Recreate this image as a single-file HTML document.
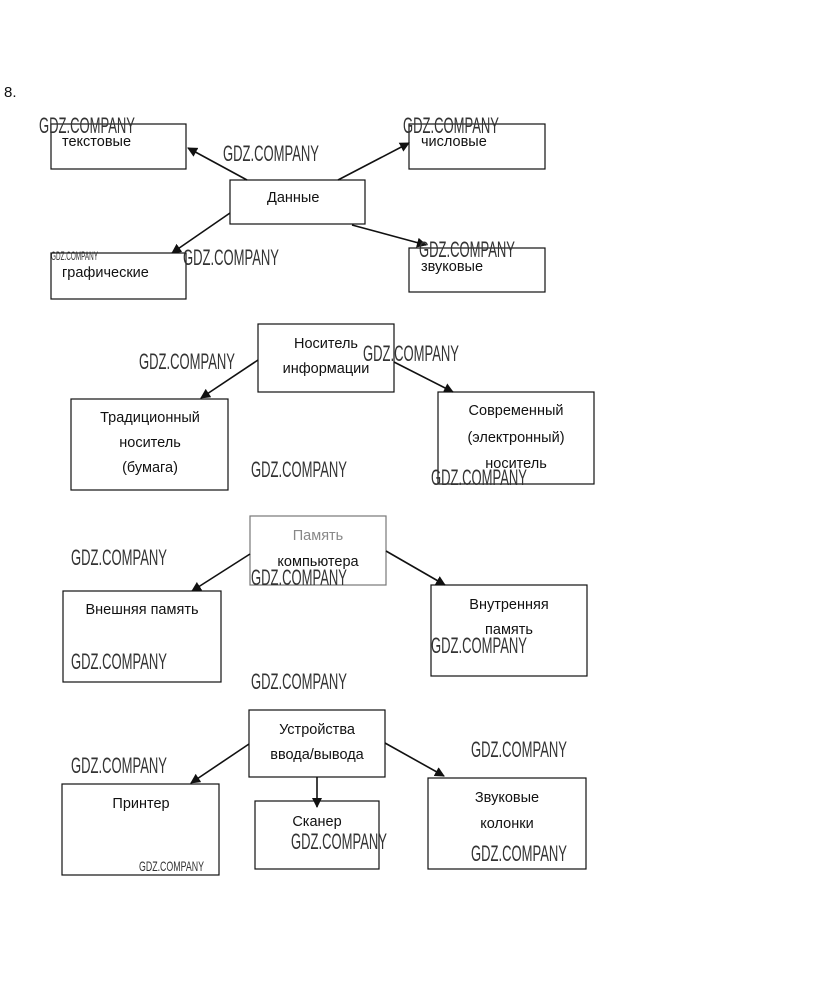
<!DOCTYPE html>
<html><head><meta charset="utf-8"><style>
html,body{margin:0;padding:0;background:#fff;}
svg{display:block;}
.t{font-family:"Liberation Sans","DejaVu Sans",sans-serif;font-size:14.5px;fill:#111;}
.w{font-family:"Liberation Sans",sans-serif;font-size:22px;fill:#333;}
.ws{font-family:"Liberation Sans",sans-serif;font-size:12px;fill:#333;}
rect{fill:none;stroke:#111;stroke-width:1.2;}
line{stroke:#111;stroke-width:1.6;}
</style></head><body>
<svg width="823" height="996" viewBox="0 0 823 996" xmlns="http://www.w3.org/2000/svg">
<defs><marker id="a" markerWidth="10" markerHeight="10" refX="9" refY="5" orient="auto" markerUnits="userSpaceOnUse"><path d="M0,0 L10,5 L0,10 z" fill="#111"/></marker></defs>
<text x="4" y="97" class="t" style="font-size:15px">8.</text>

<rect x="51" y="124" width="135" height="45"/>
<rect x="409" y="124" width="136" height="45"/>
<rect x="230" y="180" width="135" height="44"/>
<rect x="51" y="253" width="135" height="46"/>
<rect x="409" y="248" width="136" height="44"/>
<text x="62" y="146" class="t">текстовые</text>
<text x="421" y="146" class="t">числовые</text>
<text x="267" y="202" class="t">Данные</text>
<text x="62" y="277" class="t">графические</text>
<text x="421" y="271" class="t">звуковые</text>
<line x1="247" y1="180" x2="188" y2="148" marker-end="url(#a)"/>
<line x1="338" y1="180" x2="409" y2="143" marker-end="url(#a)"/>
<line x1="230" y1="213" x2="172" y2="253" marker-end="url(#a)"/>
<line x1="352" y1="225" x2="426" y2="245" marker-end="url(#a)"/>

<rect x="258" y="324" width="136" height="68"/>
<rect x="71" y="399" width="157" height="91"/>
<rect x="438" y="392" width="156" height="92"/>
<text x="326" y="348" class="t" text-anchor="middle">Носитель</text>
<text x="326" y="373" class="t" text-anchor="middle">информации</text>
<text x="150" y="422" class="t" text-anchor="middle">Традиционный</text>
<text x="150" y="447" class="t" text-anchor="middle">носитель</text>
<text x="150" y="472" class="t" text-anchor="middle">(бумага)</text>
<text x="516" y="415" class="t" text-anchor="middle">Современный</text>
<text x="516" y="442" class="t" text-anchor="middle">(электронный)</text>
<text x="516" y="468" class="t" text-anchor="middle">носитель</text>
<line x1="258" y1="360" x2="201" y2="398" marker-end="url(#a)"/>
<line x1="394" y1="362" x2="453" y2="392" marker-end="url(#a)"/>

<rect x="250" y="516" width="136" height="69" style="stroke:#777"/>
<rect x="63" y="591" width="158" height="91"/>
<rect x="431" y="585" width="156" height="91"/>
<text x="318" y="540" class="t" text-anchor="middle" style="fill:#888">Память</text>
<text x="318" y="566" class="t" text-anchor="middle">компьютера</text>
<text x="142" y="614" class="t" text-anchor="middle">Внешняя память</text>
<text x="509" y="609" class="t" text-anchor="middle">Внутренняя</text>
<text x="509" y="634" class="t" text-anchor="middle">память</text>
<line x1="250" y1="554" x2="192" y2="591" marker-end="url(#a)"/>
<line x1="386" y1="551" x2="445" y2="585" marker-end="url(#a)"/>

<rect x="249" y="710" width="136" height="67"/>
<rect x="62" y="784" width="157" height="91"/>
<rect x="255" y="801" width="124" height="68"/>
<rect x="428" y="778" width="158" height="91"/>
<text x="317" y="734" class="t" text-anchor="middle">Устройства</text>
<text x="317" y="759" class="t" text-anchor="middle">ввода/вывода</text>
<text x="141" y="808" class="t" text-anchor="middle">Принтер</text>
<text x="317" y="826" class="t" text-anchor="middle">Сканер</text>
<text x="507" y="802" class="t" text-anchor="middle">Звуковые</text>
<text x="507" y="828" class="t" text-anchor="middle">колонки</text>
<line x1="249" y1="744" x2="191" y2="783" marker-end="url(#a)"/>
<line x1="317" y1="777" x2="317" y2="807" marker-end="url(#a)"/>
<line x1="385" y1="743" x2="444" y2="776" marker-end="url(#a)"/>

<g>
<text class="w" x="39" y="133" textLength="96" lengthAdjust="spacingAndGlyphs">GDZ.COMPANY</text>
<text class="w" x="403" y="133" textLength="96" lengthAdjust="spacingAndGlyphs">GDZ.COMPANY</text>
<text class="w" x="223" y="161" textLength="96" lengthAdjust="spacingAndGlyphs">GDZ.COMPANY</text>
<text class="w" x="183" y="265" textLength="96" lengthAdjust="spacingAndGlyphs">GDZ.COMPANY</text>
<text class="w" x="419" y="257" textLength="96" lengthAdjust="spacingAndGlyphs">GDZ.COMPANY</text>
<text class="ws" x="51" y="260" textLength="47" lengthAdjust="spacingAndGlyphs">GDZ.COMPANY</text>
<text class="w" x="139" y="369" textLength="96" lengthAdjust="spacingAndGlyphs">GDZ.COMPANY</text>
<text class="w" x="363" y="361" textLength="96" lengthAdjust="spacingAndGlyphs">GDZ.COMPANY</text>
<text class="w" x="251" y="477" textLength="96" lengthAdjust="spacingAndGlyphs">GDZ.COMPANY</text>
<text class="w" x="431" y="485" textLength="96" lengthAdjust="spacingAndGlyphs">GDZ.COMPANY</text>
<text class="w" x="71" y="565" textLength="96" lengthAdjust="spacingAndGlyphs">GDZ.COMPANY</text>
<text class="w" x="251" y="585" textLength="96" lengthAdjust="spacingAndGlyphs">GDZ.COMPANY</text>
<text class="w" x="71" y="669" textLength="96" lengthAdjust="spacingAndGlyphs">GDZ.COMPANY</text>
<text class="w" x="431" y="653" textLength="96" lengthAdjust="spacingAndGlyphs">GDZ.COMPANY</text>
<text class="w" x="251" y="689" textLength="96" lengthAdjust="spacingAndGlyphs">GDZ.COMPANY</text>
<text class="w" x="471" y="757" textLength="96" lengthAdjust="spacingAndGlyphs">GDZ.COMPANY</text>
<text class="w" x="71" y="773" textLength="96" lengthAdjust="spacingAndGlyphs">GDZ.COMPANY</text>
<text class="w" x="291" y="849" textLength="96" lengthAdjust="spacingAndGlyphs">GDZ.COMPANY</text>
<text class="w" x="471" y="861" textLength="96" lengthAdjust="spacingAndGlyphs">GDZ.COMPANY</text>
<text class="ws" x="139" y="871" textLength="65" lengthAdjust="spacingAndGlyphs" style="font-size:14px">GDZ.COMPANY</text>
</g>
</svg>
</body></html>
